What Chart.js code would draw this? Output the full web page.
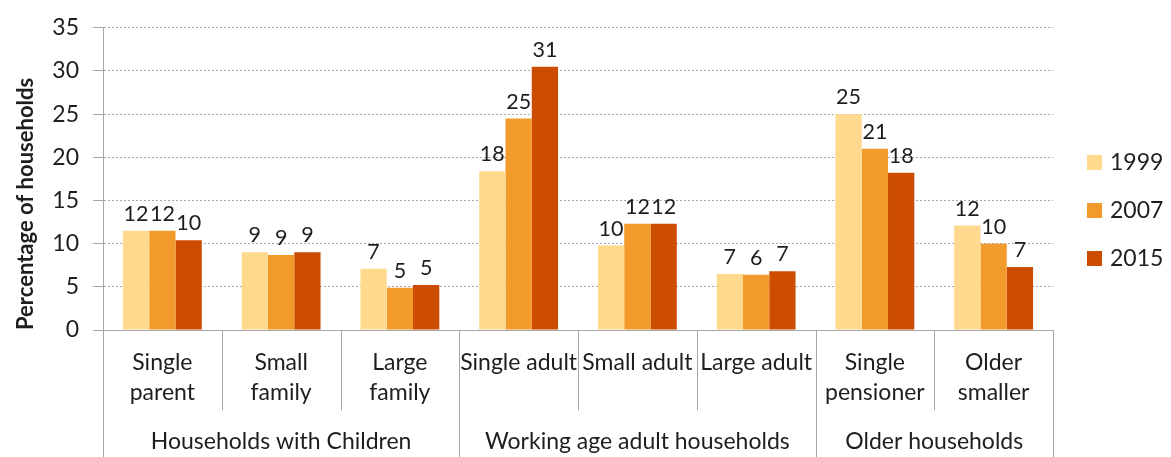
<!DOCTYPE html>
<html>
<head>
<meta charset="utf-8">
<script src="https://cdn.jsdelivr.net/npm/chart.js@4/dist/chart.umd.min.js"></script>
<style>
  html, body { margin: 0; padding: 0; background: #fff; }
  #wrap { width: 1171px; height: 457px; }
</style>
</head>
<body>
<div id="wrap"><canvas id="chart"></canvas></div>
<script>
// household types (x categories) and the group each belongs to
let categories = [['Single', 'parent'], ['Small', 'family'], ['Large', 'family'], 'Single adult', 'Small adult', 'Large adult', ['Single', 'pensioner'], ['Older', 'smaller']];
let groups = ['Households with Children', 'Working age adult households', 'Older households'];
let groupSizes = [3, 3, 2];

let years = ['1999', '2007', '2015'];
let values1999 = [11.5, 9.0, 7.1, 18.4, 9.8, 6.5, 25.0, 12.1];
let values2007 = [11.5, 8.7, 4.9, 24.5, 12.3, 6.4, 21.0, 10.0];
let values2015 = [10.4, 9.0, 5.2, 30.5, 12.3, 6.8, 18.2, 7.3];
let yTicks = [0, 5, 10, 15, 20, 25, 30, 35];

let colors = ['#fed98e', '#f39a2c', '#cc4c02'];
let font = 'Lato, "Noto Sans", sans-serif';
let textColor = '#1e1e1e';
let lineColor = '#a6a6a6';

// numbers above the bars
let barLabels = {
    id: 'barLabels',
    afterDatasetsDraw(chart) {
        let ctx = chart.ctx;
        ctx.save();
        ctx.font = '21.5px ' + font;
        ctx.fillStyle = textColor;
        ctx.textAlign = 'center';
        ctx.textBaseline = 'bottom';
        chart.data.datasets.forEach(function (ds, i) {
            chart.getDatasetMeta(i).data.forEach(function (bar, j) {
                ctx.fillText(Math.round(ds.data[j]), bar.x, bar.y - 6);
            });
        });
        ctx.restore();
    }
};

// multi-level axis: separators and group names under the category labels
let groupAxis = {
    id: 'groupAxis',
    afterDraw(chart) {
        let ctx = chart.ctx;
        let x = chart.scales.x;
        let area = chart.chartArea;
        let bottom = chart.height;
        ctx.save();
        ctx.strokeStyle = lineColor;
        ctx.lineWidth = 1;

        let edge = function (i) {
            if (i <= 0) return area.left;
            if (i >= categories.length) return area.right;
            return (x.getPixelForValue(i - 1) + x.getPixelForValue(i)) / 2;
        };
        let groupEnds = [0];
        groupSizes.forEach(function (n) { groupEnds.push(groupEnds[groupEnds.length - 1] + n); });

        for (let i = 0; i <= categories.length; i++) {
            let full = groupEnds.indexOf(i) >= 0;
            let px = Math.round(edge(i)) + 0.5;
            ctx.beginPath();
            ctx.moveTo(px, area.bottom);
            ctx.lineTo(px, full ? bottom : area.bottom + 80);
            ctx.stroke();
        }

        ctx.font = '23px ' + font;
        ctx.fillStyle = textColor;
        ctx.textAlign = 'center';
        ctx.textBaseline = 'middle';
        groups.forEach(function (g, k) {
            let cx = (edge(groupEnds[k]) + edge(groupEnds[k + 1])) / 2;
            ctx.fillText(g, cx, area.bottom + 112);
        });
        ctx.restore();
    }
};

// legend on the right
let sideLegend = {
    id: 'sideLegend',
    afterDraw(chart) {
        let ctx = chart.ctx;
        ctx.save();
        ctx.font = '23px ' + font;
        ctx.textBaseline = 'middle';
        ctx.textAlign = 'left';
        chart.data.datasets.forEach(function (ds, i) {
            let cy = 162 + i * 48;
            ctx.fillStyle = ds.backgroundColor;
            ctx.fillRect(1087, cy - 7, 15, 15);
            ctx.fillStyle = textColor;
            ctx.fillText(ds.label, 1110, cy + 1);
        });
        ctx.restore();
    }
};

let canvas = document.getElementById('chart');

let chart = new Chart(canvas, {
    type: 'bar',
    data: {
        labels: categories,
        datasets: [
            { label: years[0], data: values1999, backgroundColor: colors[0] },
            { label: years[1], data: values2007, backgroundColor: colors[1] },
            { label: years[2], data: values2015, backgroundColor: colors[2] }
        ]
    },
    options: {
        responsive: true,
        maintainAspectRatio: false,
        animation: false,
        layout: { padding: { top: 17, right: 118, left: 0, bottom: 0 } },
        datasets: { bar: { categoryPercentage: 0.664, barPercentage: 1 } },
        plugins: {
            legend: { display: false },
            tooltip: { enabled: false }
        },
        scales: {
            x: {
                afterFit: function (scale) { scale.height = 127; },
                grid: { display: false, drawTicks: false },
                border: { display: true, color: lineColor, width: 1 },
                ticks: {
                    autoSkip: false,
                    maxRotation: 0,
                    minRotation: 0,
                    padding: 18,
                    color: textColor,
                    font: { family: font, size: 23, lineHeight: 1.3 }
                }
            },
            y: {
                min: 0,
                max: 35,
                afterFit: function (scale) { scale.width = 103; },
                afterBuildTicks: function (scale) {
                    scale.ticks = yTicks.map(function (v) { return { value: v }; });
                },
                grid: {
                    color: lineColor,
                    tickLength: 10,
                    tickBorderDash: [1, 0],
                    tickColor: lineColor
                },
                border: { display: true, color: lineColor, width: 1, dash: [2, 2] },
                ticks: {
                    padding: 14,
                    color: textColor,
                    font: { family: font, size: 23 }
                },
                title: {
                    display: true,
                    text: 'Percentage of households',
                    align: 'start',
                    color: textColor,
                    padding: { top: 13, bottom: 0 },
                    font: { family: font, size: 22, weight: 'bold' }
                }
            }
        }
    },
    plugins: [barLabels, groupAxis, sideLegend]
});
</script>
</body>
</html>
